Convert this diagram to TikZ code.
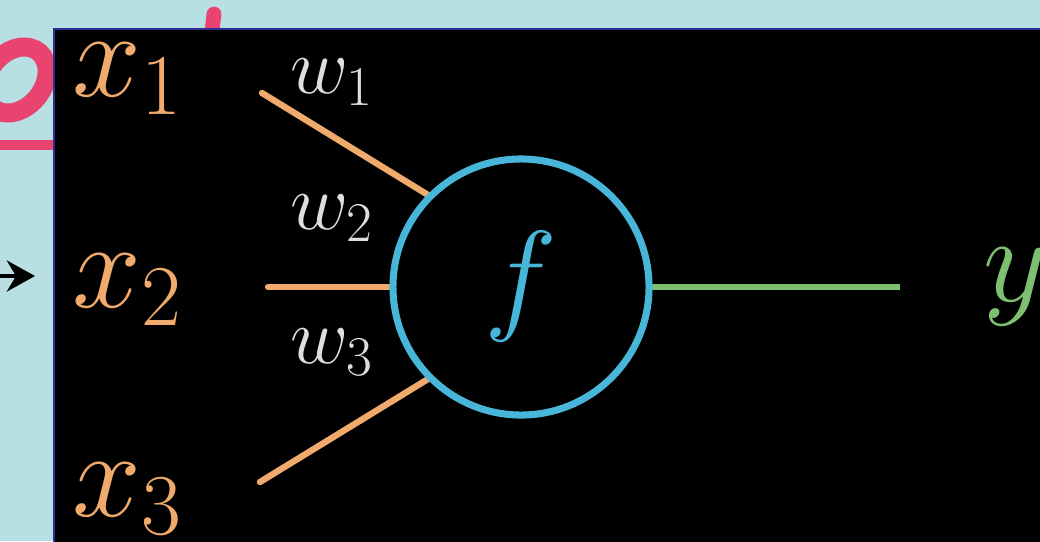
\RequirePackage{fix-cm}
\documentclass[tikz,border=0pt]{standalone}
\usepackage{amsmath}
\usetikzlibrary{positioning,calc,arrows.meta,backgrounds}
\definecolor{SlideBg}{RGB}{184,224,228}
\definecolor{TitlePink}{RGB}{233,68,112}
\definecolor{FrameBlue}{RGB}{45,45,150}
\definecolor{InOrange}{RGB}{240,170,108}
\definecolor{CellBlue}{RGB}{72,182,216}
\definecolor{OutGreen}{RGB}{124,192,112}
\definecolor{WGray}{RGB}{222,222,222}
\tikzset{
  inp/.style={text=InOrange,font=\fontsize{88}{100}\selectfont,inner sep=0pt},
  wlab/.style={text=WGray,font=\fontsize{57}{66}\selectfont,inner sep=0pt},
  syn/.style={draw=InOrange,line width=4.5pt,line cap=round},
  cell/.style={circle,draw=CellBlue,line width=5pt,minimum size=6.4cm,inner sep=0pt,outer sep=0pt,
    text=CellBlue,font=\fontsize{88}{100}\selectfont},
}
\tikzset{outl/.style={draw=OutGreen,line width=4.5pt},outlab/.style={text=OutGreen,font=\fontsize{88}{100}\selectfont,inner sep=0pt},
  pinkline/.style={draw=TitlePink,line cap=round}}

\begin{document}
\begin{tikzpicture}[x=0.025cm,y=-0.025cm]
\useasboundingbox (0,0) rectangle (1040,541);
\node[cell] (f) at (521,287) {$f$};
\foreach \i/\yy in {1/79,2/290,3/499}{\node[inp] (x\i) at (127,\yy) {$x_\i$};}
\foreach \i/\yy in {1/82,2/218,3/352}{\node[wlab] (w\i) at (332,\yy) {$w_\i$};}
\node[outlab,anchor=west] (y) at (983,287) {$y$};
\coordinate (s1) at (262,93);
\coordinate (s2) at (268,287);
\coordinate (s3) at (260,482);
\coordinate (o) at (900,287);
\coordinate (a0) at (-5,276);
\coordinate (a1) at (35,276);
\begin{scope}[on background layer]
\fill[SlideBg] (0,0) rectangle (1040,541);
% title letters peeking out from behind the frame
\begin{scope}[shift={(16,80)},xslant=0.25]
\draw[pinkline,line width=13.5pt] (0,0) ellipse [x radius=30,y radius=33];
\end{scope}
\draw[pinkline,line width=7pt] (-10,145)--(80,145);
\draw[pinkline,line width=10.5pt] (211,40)--(214,14);
\draw[-{Stealth[length=20pt,width=22pt]},line width=3.2pt] (a0)--(a1);
\filldraw[fill=black,draw=FrameBlue,line width=1.4pt] (54,29) rectangle (1050,551);
\draw[syn] (s1)--(f.135);
\draw[syn] (s2)--(f.west);
\draw[syn] (s3)--(f.-135);
\draw[outl] (f.east)--(o);
\end{scope}
\end{tikzpicture}
\end{document}
